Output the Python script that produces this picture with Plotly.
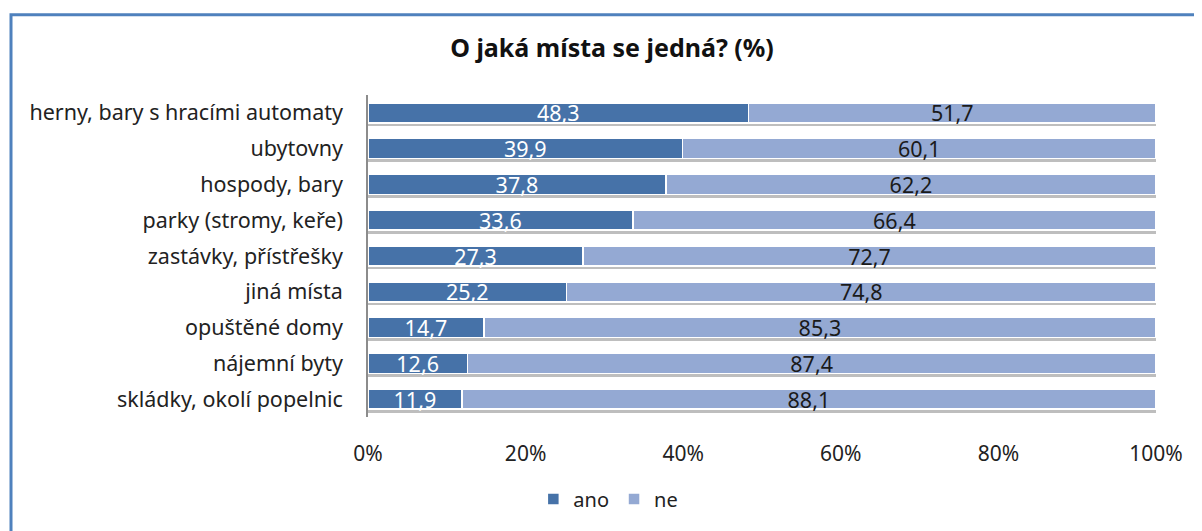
import plotly.graph_objects as go

categories = [
    "herny, bary s hracími automaty",
    "ubytovny",
    "hospody, bary",
    "parky (stromy, keře)",
    "zastávky, přístřešky",
    "jiná místa",
    "opuštěné domy",
    "nájemní byty",
    "skládky, okolí popelnic",
]
ano = [48.3, 39.9, 37.8, 33.6, 27.3, 25.2, 14.7, 12.6, 11.9]
ne = [51.7, 60.1, 62.2, 66.4, 72.7, 74.8, 85.3, 87.4, 88.1]
tick_vals = [0, 20, 40, 60, 80, 100]
tick_text = ["0%", "20%", "40%", "60%", "80%", "100%"]

FONT = "Noto Sans"

def fmt(v):
    return f"{v:.1f}".replace(".", ",")

# page has an 8px body margin; figure is sized to fill the rest of the window
W, H = 1194, 523
L, R, T, B = 360, 46, 87, 111
PW = W - L - R
PH = H - T - B
n = len(categories)
shadow_shift = 3.5 / (PH / n)  # a few pixels downward, in category units

totals = [a + b for a, b in zip(ano, ne)]

fig = go.Figure()
# soft drop shadow behind each bar (drawn on the hidden base axis)
fig.add_trace(go.Bar(
    y=categories, x=totals, orientation="h", yaxis="y", showlegend=False,
    marker=dict(color="rgba(110,110,110,0.45)", line=dict(width=0)),
    hoverinfo="skip",
))
fig.add_trace(go.Bar(
    y=categories, x=ano, name="ano", orientation="h", yaxis="y2",
    marker=dict(color="#4672A8", line=dict(color="white", width=1.5)),
    text=[fmt(v) for v in ano], textposition="inside", insidetextanchor="middle",
    textangle=0, textfont=dict(color="white", size=21.5, family=FONT),
    constraintext="none",
))
fig.add_trace(go.Bar(
    y=categories, x=ne, name="ne", orientation="h", yaxis="y2",
    marker=dict(color="#94A9D3", line=dict(color="white", width=1.5)),
    text=[fmt(v) for v in ne], textposition="inside", insidetextanchor="middle",
    textangle=0, textfont=dict(color="#1a1a1a", size=21.5, family=FONT),
    constraintext="none",
))

fig.update_layout(
    width=W, height=H,
    barmode="stack", bargap=0.44,
    paper_bgcolor="white", plot_bgcolor="white",
    margin=dict(l=L, r=R, t=T, b=B),
    font=dict(family=FONT, color="#222222", size=21),
    title=dict(text="<b>O jaká místa se jedná? (%)</b>", x=(612 - 8) / W, xanchor="center",
               y=1 - 40 / H, yanchor="middle", yref="container",
               font=dict(size=25, color="#111111", family=FONT)),
    showlegend=True,
    legend=dict(orientation="h", x=0.305, xanchor="center", y=-0.255, yanchor="middle",
                font=dict(size=20), traceorder="normal", itemwidth=30),
    uniformtext=dict(mode=False),
    xaxis=dict(range=[0, 100], tickvals=tick_vals, ticktext=tick_text,
               showgrid=False, zeroline=False, showline=False,
               ticklabelstandoff=22, tickfont=dict(size=21)),
    yaxis=dict(categoryorder="array", categoryarray=categories[::-1],
               range=[-0.5 + shadow_shift, n - 0.5 + shadow_shift],
               showgrid=False, showline=False, showticklabels=False, ticks=""),
    yaxis2=dict(overlaying="y", side="left", categoryorder="array",
                categoryarray=categories[::-1], range=[-0.5, n - 0.5],
                showgrid=False, showline=True, linecolor="#8c8c8c", linewidth=1.5,
                ticks="", ticklabelstandoff=19, tickfont=dict(size=21.5)),
)

fig.add_shape(type="rect", xref="paper", yref="paper",
              x0=(3 - L) / PW, x1=(W + 20 - L) / PW,
              y0=-(B + 20) / PH, y1=(PH + T - 6) / PH,
              line=dict(color="#4F81BD", width=3), fillcolor="rgba(0,0,0,0)", layer="below")

fig.write_html("out.html")
